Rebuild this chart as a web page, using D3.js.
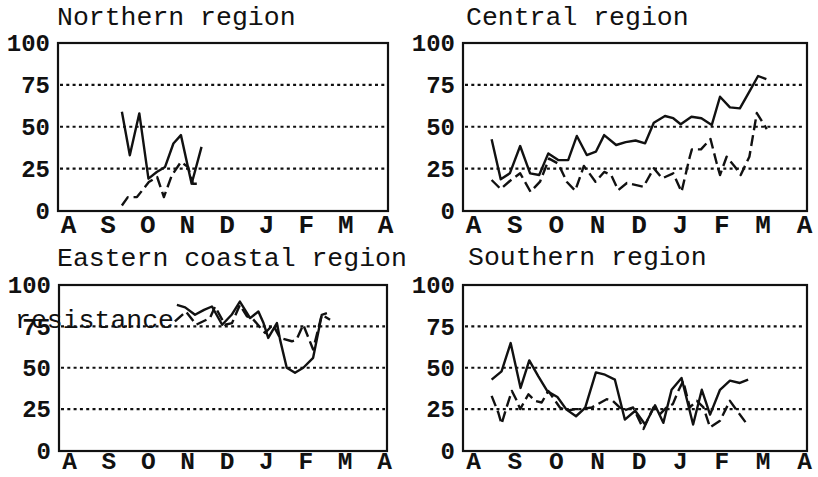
<!DOCTYPE html>
<html>
<head>
<meta charset="utf-8">
<script src="https://cdn.jsdelivr.net/npm/d3@7"></script>
<style>
  html, body { margin: 0; padding: 0; background: #fff; }
  svg { display: block; }
</style>
</head>
<body>
<svg id="chart" width="818" height="477"></svg>
<script>
// ---- data ----
const monthLabels = ["A", "S", "O", "N", "D", "J", "F", "M", "A"];
const yTicks = [0, 25, 50, 75, 100];
const gridValues = [25, 50, 75];
const titles = ["Northern region", "Central region", "Eastern coastal region", "Southern region"];
const yAxisLabel = "resistance";

// x = months since start of August, y = value
const northernSolid = [[1.36,59],[1.56,33],[1.80,58],[2.03,19],[2.24,23],[2.45,26],[2.66,40],[2.85,45],[3.12,16],[3.37,38]];
const northernDashed = [[1.36,3],[1.51,8],[1.74,8],[2.04,17],[2.25,20],[2.42,8],[2.62,21],[2.85,29],[3.03,26],[3.15,16],[3.33,16]];

const centralSolid = [[0.45,42.6],[0.67,18.6],[0.89,22.2],[1.14,38.5],[1.38,22.2],[1.60,21.2],[1.82,34.1],[2.06,30.1],[2.30,30.1],[2.51,44.5],[2.75,33.1],[2.97,35.1],[3.17,45],[3.46,39.1],[3.69,40.8],[3.93,41.8],[4.16,40.1],[4.37,52.4],[4.64,56.4],[4.84,55.1],[5.02,51.5],[5.28,56],[5.52,55.1],[5.77,51],[5.97,67.9],[6.21,61.6],[6.45,61],[6.70,71.9],[6.89,80.3],[7.09,78.4]];
const centralDashed = [[0.45,18.2],[0.67,12.8],[0.89,17.6],[1.14,22.2],[1.39,11.2],[1.62,17.2],[1.84,31],[2.06,28],[2.27,17],[2.47,11.8],[2.68,26.6],[2.96,17.2],[3.17,23],[3.34,21.2],[3.51,12.2],[3.72,16.4],[4.12,14.2],[4.37,25.2],[4.57,19.2],[4.84,22.2],[5.04,11.2],[5.24,32.1],[5.29,36.5],[5.51,36.5],[5.74,42.7],[5.89,28.2],[5.97,21.2],[6.13,32.1],[6.33,26.1],[6.47,21.2],[6.68,32.1],[6.86,58.2],[7.10,48.6]];

const easternSolid = [[2.74,88],[2.95,86.5],[3.20,82],[3.43,85],[3.63,87],[3.89,76],[4.13,82],[4.34,90],[4.60,80],[4.81,84],[4.94,77],[5.06,68],[5.28,77],[5.36,67],[5.53,50],[5.74,47],[5.95,50],[6.20,56],[6.42,82],[6.55,83]];
const easternDashed = [[2.69,78],[2.97,84],[3.23,76],[3.58,80],[3.71,87],[3.96,76],[4.14,77],[4.34,88],[4.52,81],[4.65,80],[4.98,71],[5.18,76],[5.36,68],[5.66,66],[5.78,67],[5.95,76],[6.20,61],[6.42,82],[6.63,79]];

const southernSolid = [[0.45,42.8],[0.69,47.8],[0.91,64.9],[1.15,37.8],[1.36,54.4],[1.58,44.8],[1.80,35.7],[2.04,32.3],[2.26,24.7],[2.49,20.7],[2.71,25.7],[2.97,47.2],[3.19,45.8],[3.43,42.8],[3.67,18.7],[3.92,24],[4.16,15.7],[4.40,27.3],[4.60,16.7],[4.80,36.7],[5.04,43.8],[5.32,15.7],[5.53,36.7],[5.73,21.7],[5.97,36.7],[6.21,42.2],[6.45,40.8],[6.65,42.8]];
const southernDashed = [[0.45,33],[0.61,23],[0.69,16],[0.81,26],[0.94,36],[1.06,30],[1.14,25],[1.34,34],[1.50,30],[1.66,29],[1.82,36],[2.10,26],[2.26,24],[2.47,25],[2.59,25],[2.87,26],[3.23,31],[3.38,30],[3.63,24],[3.87,26],[4.12,13],[4.36,26],[4.52,22],[4.68,26],[4.83,28],[4.96,36],[5.08,42],[5.24,26],[5.41,30],[5.57,26],[5.73,14],[5.97,18],[6.21,30],[6.41,23],[6.62,16],[6.65,16]];

const seriesByPanel = [
  [northernSolid, northernDashed],
  [centralSolid, centralDashed],
  [easternSolid, easternDashed],
  [southernSolid, southernDashed]
];

// ---- layout ----
const FONT = "'Liberation Mono', 'Courier New', monospace";
const panels = [
  { left: 58,  right: 388, top: 43,  bottom: 211, titleX: 57,  titleY: 25,  labY: 22, labSize: 26 },
  { left: 463, right: 807, top: 43,  bottom: 211, titleX: 466, titleY: 25,  labY: 22, labSize: 26 },
  { left: 59,  right: 387, top: 285, bottom: 451, titleX: 57,  titleY: 266, labY: 18, labSize: 24.5 },
  { left: 463, right: 807, top: 285, bottom: 451, titleX: 468, titleY: 265, labY: 18, labSize: 24.5 }
];

const svg = d3.select("#chart");

panels.forEach((p, i) => {
  const x = d3.scaleLinear().domain([0, 8]).range([p.left + 10, p.right - 3]);
  const y = d3.scaleLinear().domain([0, 100]).range([p.bottom - 0.5, p.top]);
  const g = svg.append("g");

  // title
  g.append("text")
    .attr("x", p.titleX).attr("y", p.titleY)
    .attr("font-family", FONT).attr("font-size", 26.5)
    .attr("fill", "#111")
    .text(titles[i]);

  // dotted gridlines
  g.selectAll("line.grid").data(gridValues).join("line")
    .attr("class", "grid")
    .attr("x1", p.left + 2).attr("x2", p.right - 2)
    .attr("y1", d => y(d)).attr("y2", d => y(d))
    .attr("stroke", "#111").attr("stroke-width", 2.2)
    .attr("stroke-dasharray", "3,3.3");

  // series
  const line = d3.line().x(d => x(d[0])).y(d => y(d[1]));
  const [solid, dashed] = seriesByPanel[i];
  g.append("path").datum(dashed)
    .attr("d", line).attr("fill", "none")
    .attr("stroke", "#111").attr("stroke-width", 2.4)
    .attr("stroke-dasharray", "11,5")
    .attr("stroke-linejoin", "round");
  g.append("path").datum(solid)
    .attr("d", line).attr("fill", "none")
    .attr("stroke", "#111").attr("stroke-width", 2.4)
    .attr("stroke-linejoin", "round");

  // frame
  g.append("rect")
    .attr("x", p.left).attr("y", p.top)
    .attr("width", p.right - p.left).attr("height", p.bottom - p.top)
    .attr("fill", "none").attr("stroke", "#111").attr("stroke-width", 2.2);

  // y axis
  const ya = g.append("g")
    .attr("transform", `translate(${p.left},0)`)
    .call(d3.axisLeft(y).tickValues(yTicks).tickSize(0).tickPadding(8).tickFormat(d3.format("d")));
  ya.select(".domain").remove();
  ya.selectAll("text")
    .attr("font-family", FONT).attr("font-size", 24).attr("font-weight", "bold")
    .attr("fill", "#111");

  // x axis
  const xa = g.append("g")
    .attr("transform", `translate(0,${p.bottom})`)
    .call(d3.axisBottom(x).tickValues(d3.range(9)).tickSize(0).tickFormat(k => monthLabels[k]));
  xa.select(".domain").remove();
  xa.selectAll("text")
    .attr("dy", null).attr("y", p.labY)
    .attr("font-family", FONT).attr("font-size", p.labSize).attr("font-weight", "bold")
    .attr("fill", "#111");
});

// overlapping axis title fragment
svg.append("text")
  .attr("x", 15).attr("y", 328)
  .attr("font-family", FONT).attr("font-size", 26.5)
  .attr("fill", "#111")
  .text(yAxisLabel);
</script>
</body>
</html>
